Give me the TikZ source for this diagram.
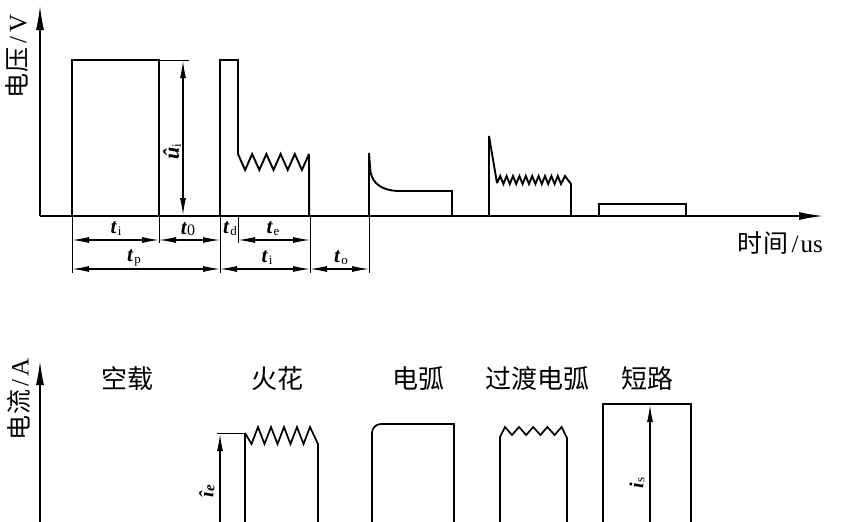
\documentclass[tikz,border=0pt]{standalone}
\usepackage{fontspec}
\setmainfont{Liberation Serif}
\newfontfamily\cjk{Noto Sans CJK SC}
\usetikzlibrary{arrows.meta}
\newcommand{\tlab}[1]{\textbf{\textit{t}}\kern0.8pt\raisebox{-2pt}{\fontsize{13}{13}\selectfont #1}}
\begin{document}
\begin{tikzpicture}[x=1pt,y=-1pt,
  wave/.style={line width=1.9pt, line join=miter, miter limit=3},
  cwave/.style={line width=1.7pt, line join=miter, miter limit=3},
  axis/.style={line width=1.3pt,-{Latex[length=24pt,width=8pt]}},
  ext/.style={line width=0.9pt},
  dim/.style={line width=1.1pt,{Latex[length=17pt,width=6pt]}-{Latex[length=17pt,width=6pt]}},
  dimup/.style={line width=1.1pt,-{Latex[length=17pt,width=6pt]}},
  lab/.style={font=\fontsize{21}{21}\selectfont, inner sep=0pt},
  slab/.style={font=\fontsize{20}{20}\selectfont, inner sep=0pt},
  cjklab/.style={font=\fontsize{26}{26}\selectfont, inner sep=0pt},
  axlab/.style={font=\fontsize{25}{25}\selectfont, inner sep=0pt}]
\useasboundingbox (0,0) rectangle (844,522);
\clip (0,0) rectangle (844,522);

% ---------------- top: voltage ----------------
\coordinate (O1) at (40,216);
\coordinate (Y1) at (40,6);
\coordinate (X1) at (823,216);
\draw[axis] (O1) -- (Y1);
\draw[axis] (O1) -- (X1);
\node[axlab, rotate=90] (ylab1) at (17,56) {{\cjk 电\kern1pt 压}\kern4pt/\kern4pt V};
\node[axlab, anchor=east] (xlab1) at (823,243) {{\cjk 时\kern1pt 间}\kern3pt/\kern2pt us};

% open-circuit pulse
\draw[wave] (72,216) -- (72,60) -- (159,60) -- (159,216);
% spark pulse
\draw[wave] (220,216) -- (220,60) -- (238,60) -- (238,154)
  \foreach \k in {0,...,4} { -- ({245.1+14.2*\k},170) -- ({252.2+14.2*\k},154) }
  -- (309.2,216);
% arc pulse
\draw[wave] (369,216) -- (369,153) -- (370.5,172)
  .. controls (373,184) and (382,190) .. (397,191) -- (452,191) -- (452,216);
% transition arc pulse
\draw[wave] (489,216) -- (489,136) -- (497,183)
  \foreach \k in {0,...,9} { -- ({500.2+6.4*\k},176) -- ({503.4+6.4*\k},184) }
  -- (565,176) -- (571,184) -- (571,216);
% short-circuit pulse
\draw[wave] (599,216) -- (599,204) -- (686,204) -- (686,216);

% dimension u_i
\coordinate (ua) at (159,60);
\coordinate (ub) at (189,60);
\coordinate (uc) at (183,61);
\coordinate (ud) at (183,215);
\draw[ext] (ua) -- (ub);
\draw[dim] (uc) -- (ud);
\node[font=\fontsize{22}{22}\selectfont, inner sep=0pt, rotate=90] (ulab) at (172,152)
  {\textbf{\textit{û}}\raisebox{-2pt}{\fontsize{13}{13}\selectfont i}};

% extension lines
\foreach \n/\x/\yy in {e1/72/273, e2/159/243, e3/220/273, e4/238/243, e5/310/273, e6/369/273} {
  \coordinate (\n a) at (\x,216);
  \coordinate (\n b) at (\x,\yy);
  \draw[ext] (\n a) -- (\n b);
}
% row 1 dims
\coordinate (r1a) at (72,240);  \coordinate (r1b) at (159,240);
\coordinate (r1c) at (220,240); \coordinate (r1d) at (238,240);
\coordinate (r1e) at (310,240);
\draw[dim] (r1a) -- (r1b);
\draw[dim] (r1b) -- (r1c);
\draw[dim] (r1d) -- (r1e);
% row 2 dims
\coordinate (r2a) at (72,269);  \coordinate (r2b) at (220,269);
\coordinate (r2c) at (310,269); \coordinate (r2d) at (369,269);
\draw[dim] (r2a) -- (r2b);
\draw[dim] (r2b) -- (r2c);
\draw[dim] (r2c) -- (r2d);

\node[lab] (ti1) at (116,229) {\tlab{i}};
\node[lab] (t0)  at (188,229) {\textbf{\textit{t}}\raisebox{-1pt}{\fontsize{16}{16}\selectfont 0}};
\node[lab] (td)  at (230,229) {\tlab{d}};
\node[lab] (te)  at (273,229) {\tlab{e}};
\node[lab] (tp)  at (134,258) {\tlab{p}};
\node[lab] (ti2) at (267,258) {\tlab{i}};
\node[lab] (to)  at (341,258) {\tlab{o}};

% ---------------- bottom: current ----------------
\coordinate (O2) at (40,522);
\coordinate (Y2) at (40,361);
\draw[axis] (O2) -- (Y2);
\node[axlab, rotate=90] (ylab2) at (19,399) {{\cjk 电\kern1pt 流}\kern3pt/\kern3pt A};

\node[cjklab] (n1) at (127,379) {\cjk 空载};
\node[cjklab] (n2) at (277,379) {\cjk 火花};
\node[cjklab] (n3) at (418,379) {\cjk 电弧};
\node[cjklab] (n4) at (537,379) {\cjk 过渡电弧};
\node[cjklab] (n5) at (647,379) {\cjk 短路};

% spark current
\draw[cwave] (245,522) -- (245,433)
  \foreach \k in {0,...,4} { -- ({251.5+13*\k},444) -- ({258+13*\k},427) }
  -- (318,444) -- (318,522);
\coordinate (ie1) at (217,433);
\coordinate (ie2) at (245,433);
\coordinate (ie3) at (220,522);
\coordinate (ie4) at (220,434);
\draw[ext] (ie1) -- (ie2);
\draw[dimup] (ie3) -- (ie4);
\node[slab, rotate=90] (ielab) at (207,491) {\textbf{\textit{î}}\raisebox{-1pt}{\fontsize{15}{15}\selectfont\textbf{\textit{e}}}};

% arc current
\draw[cwave] (372,522) [rounded corners=9pt] -- (372,424) [sharp corners] -- (454,424) -- (454,522);

% transition arc current
\draw[cwave] (500,522) -- (500,437) -- (505,427)
  \foreach \k in {0,...,3} { -- ({512+14.2*\k},435) -- ({519+14.2*\k},427) }
  -- (567,438) -- (567,522);

% short-circuit current
\draw[cwave] (603,522) -- (603,404) -- (691,404) -- (691,522);
\coordinate (is1) at (650,522);
\coordinate (is2) at (650,405);
\draw[dimup] (is1) -- (is2);
\node[slab, rotate=90] (islab) at (637,483) {\textbf{\textit{i}}\raisebox{-1pt}{\fontsize{13}{13}\selectfont s}};
\end{tikzpicture}
\end{document}
